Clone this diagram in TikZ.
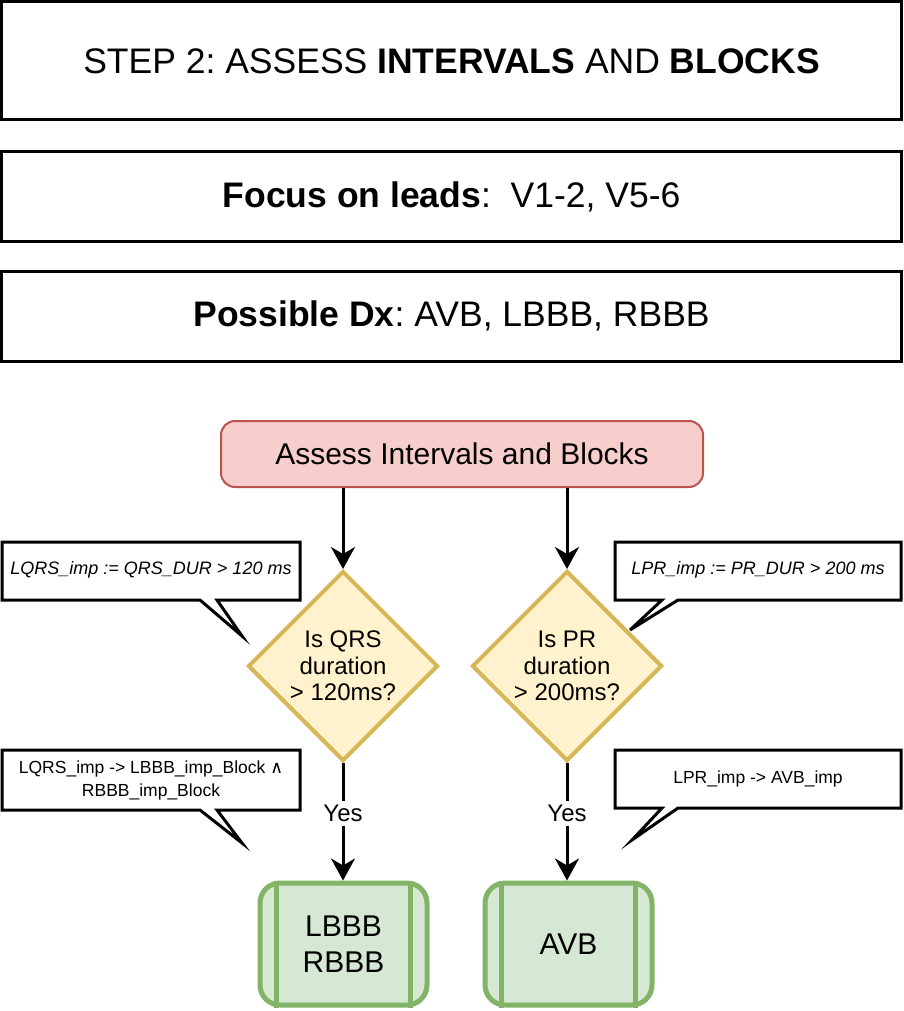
\documentclass[tikz,border=0pt]{standalone}
\usepackage{fontspec}
\setmainfont{Liberation Sans}
\newfontfamily\symfont{DejaVu Sans}
\usetikzlibrary{shapes.geometric,arrows.meta,calc}
\definecolor{pinkfill}{HTML}{F8CECC}
\definecolor{pinkline}{HTML}{B85450}
\definecolor{yelfill}{HTML}{FFF2CC}
\definecolor{yelline}{HTML}{D6B656}
\definecolor{grnfill}{HTML}{D5E8D4}
\definecolor{grnline}{HTML}{82B366}
\frenchspacing
\tikzset{
  hdrbox/.style={draw=black, line width=3pt, minimum width=900pt, inner sep=0pt, font=\fontsize{35.5}{40}\selectfont},
  startbox/.style={draw=pinkline, fill=pinkfill, line width=2pt, rounded corners=14pt, minimum width=482pt, minimum height=66pt, font=\fontsize{30}{34}\selectfont},
  decbox/.style={diamond, aspect=1, draw=yelline, fill=yelfill, line width=4pt, minimum width=190pt, minimum height=190pt, inner sep=0pt, align=center, font=\fontsize{24}{26.5}\selectfont},
  resbox/.style={draw=grnline, fill=grnfill, line width=5pt, rounded corners=20pt, minimum width=167pt, minimum height=122pt, align=center, font=\fontsize{30}{36}\selectfont},
  flow/.style={line width=3pt, -{Stealth[length=22pt,width=24pt,inset=7pt]}},
  callout/.style={draw=black, fill=white, line width=3pt, line join=miter, miter limit=10},
  calltext/.style={font=\fontsize{17.5}{23}\selectfont, align=center, inner sep=0pt},
  callital/.style={font=\fontsize{18}{23}\selectfont\itshape, inner sep=0pt},
  yeslbl/.style={fill=white, font=\fontsize{24}{26}\selectfont, inner sep=4pt}
}
\begin{document}
\begin{tikzpicture}[x=1pt,y=-1pt]
\useasboundingbox (0,0) rectangle (903,1011);
% header boxes
\node[hdrbox, minimum height=118pt] (h1) at (451.5,61) {STEP 2: ASSESS \textbf{INTERVALS} AND \textbf{BLOCKS}};
\node[hdrbox, minimum height=89pt] (h2) at (451.5,196.5) {\textbf{Focus on leads}:\ \ V1-2, V5-6};
\node[hdrbox, minimum height=90pt] (h3) at (451.5,316) {\textbf{Possible Dx}: AVB, LBBB, RBBB};
% flow
\node[startbox] (s) at (462,454) {Assess Intervals and Blocks};
\node[decbox] (q) at (343,666) {Is QRS\\duration\\> 120ms?};
\node[decbox] (p) at (567,666) {Is PR\\duration\\> 200ms?};
\node[resbox] (r1) at (343.5,944) {LBBB\\RBBB};
\node[resbox] (r2) at (568.5,944) {AVB};
\foreach \b in {r1,r2}{
  \draw[grnline, line width=5pt] ([xshift=19pt]\b.north west) -- ([xshift=19pt]\b.south west);
  \draw[grnline, line width=5pt] ([xshift=-19pt]\b.north east) -- ([xshift=-19pt]\b.south east);
}
\draw[flow] (s.south -| q.north) -- (q.north);
\draw[flow] (s.south -| p.north) -- (p.north);
\draw[flow] (q.south) -- node[yeslbl, pos=0.43] (y1) {Yes} (r1.north -| q.south);
\draw[flow] (p.south) -- node[yeslbl, pos=0.43] (y2) {Yes} (r2.north -| p.south);
% callouts
\draw[callout] (2,542) -- (300,542) -- (300,600) -- (217,600) -- (242,636) -- (200,600) -- (2,600) -- cycle;
\node[callital] (c1) at (151,570) {LQRS\_imp := QRS\_DUR > 120 ms};
\draw[callout] (615,542) -- (901,542) -- (901,600) -- (678,600) -- (630,630) -- (662,600) -- (615,600) -- cycle;
\node[callital] (c2) at (758,570) {LPR\_imp := PR\_DUR > 200 ms};
\draw[callout] (2,750) -- (300,750) -- (300,810) -- (217,810) -- (242,843) -- (200,810) -- (2,810) -- cycle;
\node[calltext] (c3) at (151,780) {LQRS\_imp -> LBBB\_imp\_Block {\symfont ∧}\\RBBB\_imp\_Block};
\draw[callout] (615,750) -- (901,750) -- (901,808) -- (678,808) -- (632,840) -- (662,808) -- (615,808) -- cycle;
\node[calltext] (c4) at (758,779) {LPR\_imp -> AVB\_imp};
\end{tikzpicture}
\end{document}
